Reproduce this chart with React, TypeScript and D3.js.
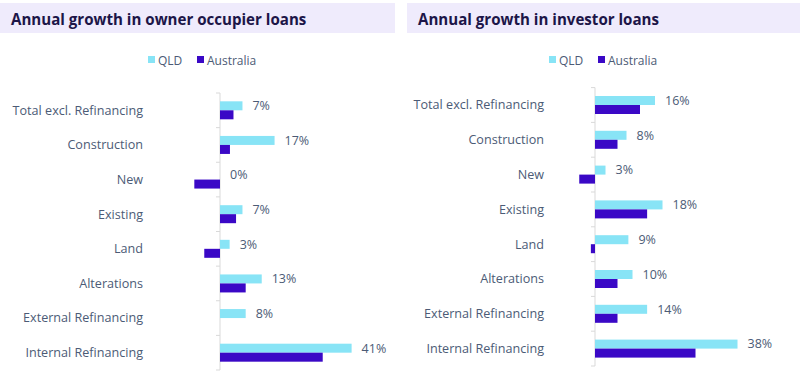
import React from "react";
import * as d3 from "d3";

const categories = [
  "Total excl. Refinancing",
  "Construction",
  "New",
  "Existing",
  "Land",
  "Alterations",
  "External Refinancing",
  "Internal Refinancing",
];

const ownerQld = [7, 17, 0, 7, 3, 13, 8, 41];
const ownerAus = [4.2, 3.1, -8, 5, -4.9, 8, 0, 32];
const ownerLabels = ["7%", "17%", "0%", "7%", "3%", "13%", "8%", "41%"];

const investorQld = [16, 8.4, 2.8, 18, 8.9, 10, 13.9, 38];
const investorAus = [12, 6, -4.2, 13.9, -1.1, 6, 6, 26.8];
const investorLabels = ["16%", "8%", "3%", "18%", "9%", "10%", "14%", "38%"];

const seriesNames = ["QLD", "Australia"];
const colors = ["#88E4F6", "#3A08C6"];

const FONT = "'Open Sans', 'Noto Sans', sans-serif";
const LABEL_COLOR = "#4C5B76";

type PanelProps = {
  title: string;
  x0: number;
  boxX: number;
  boxW: number;
  titleX: number;
  axisX: number;
  pxPerPct: number;
  yTop: number;
  yBottom: number;
  qld: number[];
  aus: number[];
  labels: string[];
  legendX: number;
};

function Panel(p: PanelProps) {
  const y = d3.scaleBand<string>().domain(categories).range([p.yTop, p.yBottom]).paddingInner(0).paddingOuter(0);
  const x = d3
    .scaleLinear()
    .domain([0, 10])
    .range([p.axisX, p.axisX + p.pxPerPct * 10]);
  const barH = 9;
  const bw = y.bandwidth();
  const ticks = d3.range(categories.length + 1).map((i) => p.yTop + i * bw);
  return (
    <g>
      <rect x={p.boxX} y={3} width={p.boxW} height={30} fill="#EFEBFC" />
      <text x={p.titleX} y={24.5} fontFamily={FONT} fontWeight={700} fontSize={15.1} fill="#1C1548">
        {p.title}
      </text>
      {/* legend */}
      <g fontFamily={FONT} fontSize={12} fill={LABEL_COLOR}>
        <rect x={p.legendX} y={56} width={7} height={7} fill={colors[0]} />
        <text x={p.legendX + 10} y={64.5}>{seriesNames[0]}</text>
        <rect x={p.legendX + 49} y={56} width={7} height={7} fill={colors[1]} />
        <text x={p.legendX + 59} y={64.5}>{seriesNames[1]}</text>
      </g>
      {/* axis */}
      <line x1={p.axisX} x2={p.axisX} y1={p.yTop} y2={p.yBottom} stroke="#D9D9D9" strokeWidth={1} />
      {ticks.map((t, i) => (
        <line key={i} x1={p.axisX - 4} x2={p.axisX} y1={t} y2={t} stroke="#D9D9D9" strokeWidth={1} />
      ))}
      {categories.map((c, i) => {
        const yc = (y(c) as number) + bw / 2;
        const q = p.qld[i];
        const a = p.aus[i];
        return (
          <g key={c}>
            <rect
              x={Math.min(x(0), x(q))}
              y={yc - barH}
              width={Math.abs(x(q) - x(0))}
              height={barH}
              fill={colors[0]}
            />
            <rect
              x={Math.min(x(0), x(a))}
              y={yc}
              width={Math.abs(x(a) - x(0))}
              height={barH}
              fill={colors[1]}
            />
            <text
              x={x(Math.max(q, 0)) + 10}
              y={yc - 4.5}
              dy="0.35em"
              fontFamily={FONT}
              fontSize={12.5}
              fill={LABEL_COLOR}
            >
              {p.labels[i]}
            </text>
            <text
              x={p.x0}
              y={yc}
              dy="0.35em"
              textAnchor="end"
              fontFamily={FONT}
              fontSize={12.6}
              fill={LABEL_COLOR}
            >
              {c}
            </text>
          </g>
        );
      })}
    </g>
  );
}

export default function App() {
  return (
    <svg width={800} height={379} style={{ position: "absolute", left: 0, top: 0, background: "#fff" }}>
      <rect width={800} height={379} fill="#fff" />
      <Panel
        title="Annual growth in owner occupier loans"
        x0={143}
        boxX={0}
        boxW={395}
        titleX={11}
        axisX={220}
        pxPerPct={3.21}
        yTop={93}
        yBottom={370}
        qld={ownerQld}
        aus={ownerAus}
        labels={ownerLabels}
        legendX={148}
      />
      <Panel
        title="Annual growth in investor loans"
        x0={544}
        boxX={407}
        boxW={393}
        titleX={418}
        axisX={595}
        pxPerPct={3.75}
        yTop={87.6}
        yBottom={366}
        qld={investorQld}
        aus={investorAus}
        labels={investorLabels}
        legendX={549}
      />
    </svg>
  );
}
